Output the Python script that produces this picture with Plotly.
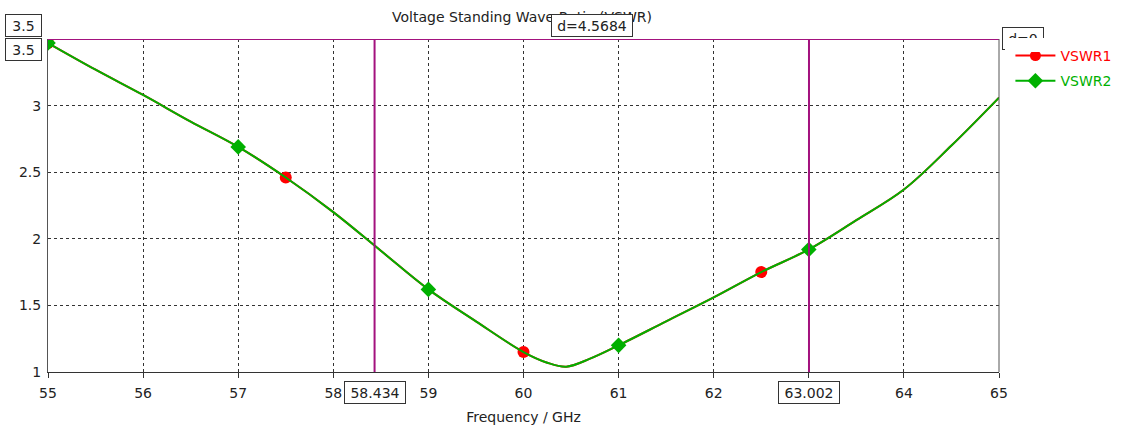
import plotly.graph_objects as go

# Simulated VSWR sweep (GHz)
freq = [55, 55.5, 56, 56.5, 57, 57.5, 58, 58.5, 59, 59.5, 60, 60.25, 60.45,
        60.7, 61, 61.5, 62, 62.5, 63, 63.5, 64, 64.5, 65]
vswr = [3.47, 3.27, 3.08, 2.88, 2.69, 2.46, 2.20, 1.91, 1.62, 1.38, 1.15, 1.07, 1.04,
        1.10, 1.20, 1.38, 1.56, 1.75, 1.92, 2.14, 2.37, 2.70, 3.06]

# Marker positions for each curve
vswr1_marker_freq = [55, 57.5, 60, 62.5]
vswr2_marker_freq = [55, 57, 59, 61, 63]

# Measurement markers
marker_level = 3.5
marker_f1 = 58.434
marker_f2 = 63.002
delta_text = "d=4.5684"

x_ticks = list(range(55, 66))
x_ticktext = ["55", "56", "57", "58", "59", "60", "61", "62", "", "64", "65"]
y_ticks = [1, 1.5, 2, 2.5, 3, 3.5]
y_ticktext = ["1", "1.5", "2", "2.5", "3", ""]

RED = "#ff0000"
GREEN = "#00b000"
PURPLE = "#a3127e"
FONT = "DejaVu Sans"
FS = 14


def pick(fs):
    return [vswr[freq.index(f)] for f in fs]


fig = go.Figure()

fig.add_trace(go.Scatter(x=freq, y=vswr, mode="lines", line=dict(color=RED, width=2, shape="spline"),
                         showlegend=False, hoverinfo="skip"))
fig.add_trace(go.Scatter(x=vswr1_marker_freq, y=pick(vswr1_marker_freq), mode="markers",
                         marker=dict(color=RED, size=12, symbol="circle"), showlegend=False))
fig.add_trace(go.Scatter(x=freq, y=vswr, mode="lines", line=dict(color=GREEN, width=2, shape="spline"),
                         showlegend=False, hoverinfo="skip"))
fig.add_trace(go.Scatter(x=vswr2_marker_freq, y=pick(vswr2_marker_freq), mode="markers",
                         marker=dict(color=GREEN, size=12, symbol="diamond"), showlegend=False))

# legend entries
fig.add_trace(go.Scatter(x=[None], y=[None], mode="lines+markers", legendgroup="v1",
                         name=f'<span style="color:{RED}">VSWR1</span>',
                         line=dict(color=RED, width=2), marker=dict(color=RED, size=11, symbol="circle")))
fig.add_trace(go.Scatter(x=[None], y=[None], mode="lines+markers", legendgroup="v2",
                         name=f'<span style="color:{GREEN}">VSWR2</span>',
                         line=dict(color=GREEN, width=2), marker=dict(color=GREEN, size=12, symbol="diamond")))

# marker lines
fig.add_shape(type="line", xref="x", yref="y", x0=55, x1=65, y0=marker_level, y1=marker_level,
              line=dict(color=PURPLE, width=2), layer="above")
for f in (marker_f1, marker_f2):
    fig.add_shape(type="line", xref="x", yref="y", x0=f, x1=f, y0=1, y1=marker_level,
                  line=dict(color=PURPLE, width=2), layer="above")

box = dict(bordercolor="#333333", borderwidth=1, bgcolor="white", borderpad=2,
           font=dict(family=FONT, size=FS, color="#222222"), showarrow=False)

fig.add_annotation(text=str(marker_level), xref="paper", yref="y", x=-0.0063, y=marker_level,
                   xanchor="right", yanchor="top", yshift=1, width=31, height=17, **box)
fig.add_annotation(text=str(marker_level), xref="paper", yref="y", x=-0.0063, y=marker_level,
                   xanchor="right", yanchor="bottom", yshift=2, width=31, height=17, **box)
fig.add_annotation(text=delta_text, xref="x", yref="paper", x=(marker_f1 + marker_f2) / 2, y=1.0,
                   xanchor="center", yanchor="bottom", yshift=2, width=76, height=17, **box)
fig.add_annotation(text=f"{marker_f1:.3f}", xref="x", yref="paper", x=marker_f1, y=0,
                   xanchor="center", yanchor="top", yshift=-9, width=56, height=17, **box)
fig.add_annotation(text=f"{marker_f2:.3f}", xref="x", yref="paper", x=marker_f2, y=0,
                   xanchor="center", yanchor="top", yshift=-9, width=56, height=17, **box)
# delta box of the second marker pair, partly hidden behind the legend area
fig.add_annotation(text="d=0", xref="paper", yref="paper", x=1.0035, y=1.0,
                   xanchor="left", yanchor="top", yshift=12, width=36, height=17, **box)
fig.add_annotation(text="", xref="paper", yref="paper", x=1.006, y=1.0, xanchor="left",
                   yanchor="top", yshift=1, width=50, height=12, bgcolor="white",
                   borderwidth=0, showarrow=False)

fig.update_layout(
    width=1121, height=432,
    margin=dict(l=48, r=122, t=39, b=60, autoexpand=False),
    paper_bgcolor="white", plot_bgcolor="white",
    font=dict(family=FONT, size=FS, color="#222222"),
    title=dict(text="Voltage Standing Wave Ratio (VSWR)", xref="container", x=0.4657, xanchor="center",
               y=0.96, yanchor="middle", font=dict(family=FONT, size=FS, color="#222222")),
    legend=dict(x=1.012, y=0.997, xanchor="left", yanchor="top", bgcolor="rgba(0,0,0,0)",
                font=dict(family=FONT, size=FS), itemwidth=40, traceorder="grouped",
                tracegroupgap=4),
    showlegend=True,
)

fig.update_xaxes(range=[55, 65], tickvals=x_ticks, ticktext=x_ticktext,
                 showgrid=True, gridcolor="#333333", griddash="3px,3px", gridwidth=1,
                 showline=True, linecolor="#333333", linewidth=1, mirror=False,
                 ticks="outside", ticklen=5, tickcolor="#333333", zeroline=False,
                 ticklabelstandoff=3,
                 title=dict(text="Frequency / GHz", standoff=12, font=dict(family=FONT, size=FS)))
fig.update_yaxes(range=[1, 3.5], tickvals=y_ticks, ticktext=y_ticktext,
                 showgrid=True, gridcolor="#333333", griddash="3px,3px", gridwidth=1,
                 showline=True, linecolor="#555555", linewidth=1,
                 ticks="", zeroline=False, ticklabelstandoff=3)

# right frame edge
fig.add_shape(type="line", xref="paper", yref="paper", x0=1, x1=1, y0=0, y1=1,
              line=dict(color="#555555", width=1))

fig.write_html("out.html")
